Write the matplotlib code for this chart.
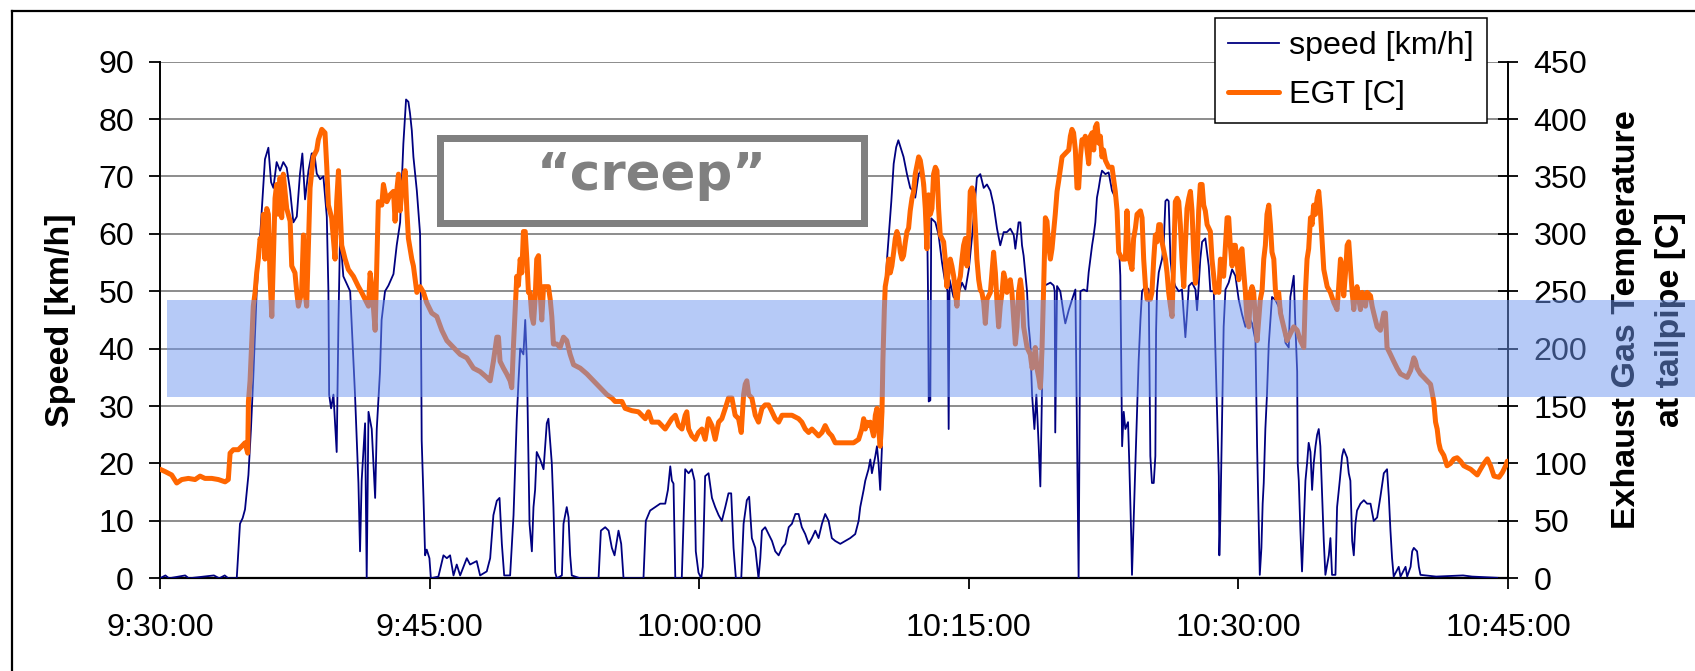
import matplotlib
matplotlib.use("Agg")
import matplotlib.pyplot as plt
from matplotlib.patches import Rectangle
from matplotlib.lines import Line2D
import matplotlib.transforms as mtransforms

plt.rcParams['font.family'] = ['Liberation Sans', 'DejaVu Sans']

# ---------------- data (minutes after 9:30:00) ----------------
xtick_minutes = [0, 15, 30, 45, 60, 75]
xtick_labels = ["9:30:00", "9:45:00", "10:00:00", "10:15:00", "10:30:00", "10:45:00"]
speed_ticks = list(range(0, 91, 10))
egt_ticks = list(range(0, 451, 50))
series_labels = ["speed [km/h]", "EGT [C]"]
band_speed = (31.5, 48.5)   # highlighted range on the speed axis
annotation_text = "\u201ccreep\u201d"

speed_trace = [
    (0.00, 0), (0.30, 0.5), (0.50, 0), (1.40, 0.5), (1.60, 0), (3.00, 0.5), (3.30, 0), (3.60, 0.5),
    (3.80, 0), (4.27, 0), (4.45, 9.5), (4.60, 10.5), (4.73, 12), (4.92, 18), (5.06, 26), (5.19, 35),
    (5.38, 50), (5.66, 64), (5.84, 73), (6.03, 75), (6.18, 69), (6.31, 68), (6.49, 72.5), (6.68, 71),
    (6.86, 72.5), (7.05, 71.5), (7.24, 67.5), (7.42, 62), (7.61, 63), (7.79, 70.5), (7.92, 74),
    (8.07, 66), (8.26, 71), (8.44, 74), (8.59, 74), (8.72, 70.5), (8.91, 69.5), (9.09, 70), (9.28, 63),
    (9.37, 50), (9.41, 32), (9.52, 29.6), (9.65, 32), (9.83, 22), (9.93, 45), (10.02, 60), (10.20, 52.6),
    (10.58, 50), (10.85, 32), (11.04, 16.6), (11.13, 4.7), (11.22, 17), (11.41, 27), (11.50, 0),
    (11.60, 29), (11.78, 26), (11.97, 14), (12.06, 26), (12.24, 36), (12.33, 45), (12.52, 50),
    (12.71, 51), (12.99, 53), (13.17, 58), (13.36, 62), (13.54, 75.7), (13.69, 83.4), (13.82, 83),
    (13.91, 81), (14.01, 78), (14.10, 73.4), (14.29, 67.5), (14.47, 60), (14.51, 50), (14.56, 24),
    (14.66, 14), (14.75, 4), (14.84, 5), (14.99, 3.5), (15.07, 0), (15.49, 0.3), (15.77, 4), (15.96, 3.5),
    (16.14, 4), (16.33, 0.5), (16.51, 2.4), (16.70, 0.5), (17.07, 3.5), (17.25, 2.4), (17.62, 3),
    (17.81, 0.5), (18.18, 1.2), (18.37, 3.5), (18.55, 11), (18.74, 13.5), (18.89, 14), (19.02, 6),
    (19.15, 0.5), (19.48, 0.5), (19.67, 11), (19.76, 19.5), (19.85, 27.8), (19.94, 34), (20.04, 40),
    (20.22, 39), (20.32, 45), (20.41, 38), (20.56, 9.5), (20.69, 4.7), (20.78, 12.4), (20.87, 15.4),
    (20.96, 22), (21.15, 20.7), (21.34, 19), (21.52, 27), (21.61, 27.8), (21.80, 20), (21.89, 12.4),
    (21.99, 1), (22.08, 0), (22.36, 0.5), (22.45, 9.5), (22.63, 12.4), (22.73, 10.6), (22.82, 4),
    (22.91, 0.5), (23.38, 0), (24.40, 0), (24.53, 8.3), (24.77, 8.9), (24.96, 8.3), (25.14, 5.3),
    (25.29, 4), (25.51, 8.3), (25.66, 6), (25.79, 0), (26.90, 0), (27.03, 10), (27.27, 11.8),
    (27.55, 12.4), (27.83, 13), (28.11, 13), (28.26, 15.4), (28.39, 19.5), (28.48, 17), (28.57, 16.5),
    (28.67, 0), (29.03, 0), (29.22, 19), (29.41, 18.3), (29.59, 19), (29.74, 17), (29.81, 4.7),
    (29.96, 1), (30.11, 0), (30.20, 2), (30.33, 17.8), (30.52, 18.3), (30.71, 14), (30.89, 12.4),
    (31.08, 11), (31.26, 10), (31.45, 12.4), (31.63, 14.8), (31.78, 14.8), (31.91, 5.3), (32.04, 0),
    (32.34, 0), (32.47, 9.5), (32.65, 13.6), (32.78, 14.2), (32.93, 7), (33.12, 5.3), (33.30, 0),
    (33.40, 3.5), (33.49, 8.3), (33.67, 8.9), (33.86, 7.7), (34.05, 6.5), (34.23, 4.7), (34.42, 4),
    (34.61, 5.3), (34.79, 6), (34.98, 8.9), (35.16, 9.5), (35.35, 11.2), (35.53, 11.2), (35.71, 8.9),
    (35.90, 7.7), (36.09, 6), (36.27, 7), (36.46, 8.3), (36.64, 7), (36.83, 9.5), (37.01, 11.2),
    (37.20, 10), (37.38, 7), (37.57, 6.5), (37.85, 6), (38.13, 6.5), (38.40, 7), (38.68, 7.7),
    (38.87, 10), (38.96, 12.4), (39.15, 15.4), (39.24, 17), (39.42, 19), (39.52, 20.7), (39.61, 18.3),
    (39.80, 21.3), (39.89, 23), (39.98, 20), (40.07, 15.4), (40.17, 23), (40.26, 37.9), (40.35, 50),
    (40.45, 55.6), (40.59, 61.5), (40.69, 65.7), (40.82, 72.2), (40.96, 75.1), (41.08, 76.3),
    (41.21, 75), (41.37, 73.4), (41.56, 70.4), (41.74, 68), (41.89, 67.5), (42.02, 66.3), (42.21, 70.4),
    (42.34, 71), (42.49, 66.9), (42.67, 65), (42.73, 50), (42.77, 30.8), (42.86, 31), (42.91, 62.7),
    (43.14, 62), (43.32, 59.8), (43.51, 55), (43.69, 51.5), (43.82, 50), (43.88, 26), (43.93, 52),
    (44.15, 49), (44.34, 48.5), (44.62, 51.5), (44.81, 50.3), (45.00, 53.8), (45.19, 59.8),
    (45.45, 69.8), (45.64, 70.4), (45.83, 68), (46.01, 68.6), (46.20, 67.5), (46.38, 65), (46.57, 60.9),
    (46.75, 58), (46.94, 60.3), (47.12, 60.3), (47.31, 60.9), (47.50, 59.8), (47.59, 57.4), (47.77, 62),
    (47.87, 62), (47.96, 58), (48.05, 56.2), (48.24, 50), (48.33, 44), (48.42, 41), (48.52, 32),
    (48.65, 26), (48.76, 32), (48.89, 23), (48.98, 16), (49.07, 32), (49.17, 50.9), (49.54, 51.5),
    (49.72, 51), (49.78, 50), (49.81, 25.4), (49.87, 40), (49.91, 50.9), (50.09, 50), (50.28, 46),
    (50.37, 44.4), (50.56, 46.7), (50.74, 48.5), (50.93, 50.3), (51.02, 24.9), (51.11, 0), (51.21, 50),
    (51.39, 50.3), (51.58, 50), (51.67, 53.3), (51.76, 55.6), (51.86, 58), (51.95, 59.8), (52.04, 62),
    (52.13, 66.3), (52.23, 68), (52.32, 69.8), (52.41, 71), (52.60, 70.4), (52.78, 70.7), (52.97, 67.5),
    (53.15, 66.3), (53.34, 59.2), (53.43, 52.7), (53.53, 23), (53.62, 29), (53.71, 26), (53.86, 27.2),
    (53.93, 20), (54.04, 7), (54.08, 0.6), (54.17, 10), (54.27, 20), (54.36, 29), (54.45, 37.9),
    (54.55, 45), (54.64, 50), (54.83, 50.9), (55.01, 50.3), (55.10, 21.3), (55.19, 16.6), (55.29, 16.6),
    (55.38, 21.3), (55.42, 43), (55.47, 50), (55.57, 53.3), (55.75, 55.6), (55.84, 58), (55.94, 65.7),
    (56.03, 66), (56.12, 65.7), (56.22, 55.6), (56.31, 52.7), (56.49, 50.9), (56.68, 50), (56.86, 50.3),
    (56.96, 46), (57.05, 42), (57.14, 46), (57.24, 50.9), (57.42, 51.5), (57.61, 50.3), (57.70, 46.7),
    (57.79, 50.9), (57.88, 55.6), (57.98, 58.6), (58.16, 59.2), (58.35, 54.4), (58.44, 50), (58.63, 50),
    (58.72, 39.6), (58.81, 29), (58.91, 17.8), (58.94, 4), (59.00, 11.2), (59.09, 27.2), (59.18, 43.8),
    (59.28, 50.3), (59.46, 51.5), (59.65, 53.8), (59.83, 52.7), (60.02, 48.5), (60.20, 46),
    (60.39, 43.8), (60.58, 45.6), (60.76, 44.4), (60.95, 41.4), (61.04, 23), (61.13, 10), (61.19, 0.6),
    (61.28, 5.3), (61.35, 13), (61.41, 16.6), (61.50, 26), (61.59, 32), (61.69, 40.8), (61.87, 49),
    (62.06, 48.5), (62.24, 47.3), (62.34, 48), (62.52, 43.8), (62.62, 41), (62.80, 40.2), (62.89, 49),
    (63.08, 52.7), (63.17, 44), (63.27, 36), (63.30, 20), (63.36, 17), (63.45, 8.3), (63.54, 1.2),
    (63.64, 9.5), (63.73, 17), (63.82, 20), (63.91, 23.6), (64.01, 22), (64.10, 15.4), (64.19, 20),
    (64.29, 23), (64.38, 25), (64.47, 26), (64.56, 23), (64.66, 14.2), (64.75, 6.5), (64.84, 0.6),
    (65.03, 4), (65.12, 7), (65.21, 0.6), (65.40, 0.6), (65.49, 12.4), (65.64, 17), (65.77, 21.3),
    (65.86, 22.5), (66.05, 21), (66.14, 18.3), (66.23, 17), (66.33, 6.5), (66.42, 4), (66.51, 9.5),
    (66.60, 11.8), (66.79, 13), (66.98, 13.6), (67.16, 13), (67.35, 13), (67.53, 10), (67.72, 10.6),
    (67.90, 14.2), (68.09, 18.3), (68.27, 19), (68.37, 14.2), (68.46, 8.3), (68.55, 3.5), (68.64, 0.3),
    (68.92, 2), (69.02, 0.3), (69.30, 2), (69.39, 0.3), (69.58, 2), (69.67, 4.7), (69.76, 5.3),
    (69.94, 4.7), (70.04, 2), (70.13, 0.6), (71.00, 0.3), (72.50, 0.5), (73.00, 0.3), (75.00, 0),
]

egt_trace = [
    (0.00, 95), (0.28, 93), (0.65, 90), (0.93, 83), (1.21, 86), (1.58, 87), (1.95, 86), (2.23, 89),
    (2.50, 87), (2.88, 87), (3.25, 86), (3.62, 84), (3.80, 86), (3.90, 109), (4.08, 112), (4.36, 112),
    (4.55, 115), (4.73, 118), (4.88, 109), (4.92, 154), (5.01, 172), (5.10, 204), (5.19, 237),
    (5.29, 249), (5.38, 266), (5.47, 278), (5.57, 296), (5.66, 290), (5.75, 317), (5.84, 278),
    (5.94, 322), (6.03, 317), (6.12, 263), (6.22, 228), (6.31, 278), (6.40, 331), (6.49, 343),
    (6.59, 317), (6.68, 349), (6.77, 314), (6.86, 352), (7.05, 322), (7.24, 311), (7.33, 272),
    (7.51, 266), (7.61, 249), (7.70, 237), (7.88, 249), (7.98, 299), (8.07, 249), (8.16, 237),
    (8.26, 290), (8.35, 340), (8.53, 367), (8.72, 373), (8.81, 382), (9.00, 391), (9.18, 388),
    (9.28, 358), (9.37, 325), (9.55, 314), (9.74, 278), (9.83, 328), (9.93, 355), (10.02, 322),
    (10.11, 290), (10.30, 278), (10.48, 269), (10.76, 263), (11.04, 254), (11.22, 249), (11.41, 243),
    (11.60, 237), (11.69, 266), (11.78, 255), (11.87, 237), (11.97, 216), (12.06, 272), (12.15, 328),
    (12.34, 325), (12.43, 343), (12.62, 328), (12.80, 334), (12.99, 337), (13.08, 311), (13.17, 337),
    (13.27, 352), (13.36, 320), (13.45, 337), (13.54, 343), (13.64, 355), (13.73, 322), (13.82, 296),
    (14.01, 278), (14.10, 272), (14.29, 249), (14.47, 254), (14.66, 249), (14.84, 240), (15.12, 231),
    (15.40, 228), (15.68, 216), (15.96, 207), (16.33, 201), (16.70, 195), (17.07, 192), (17.44, 183),
    (17.81, 180), (18.18, 175), (18.37, 172), (18.55, 189), (18.74, 210), (18.83, 210), (18.92, 189),
    (19.11, 183), (19.29, 178), (19.48, 172), (19.57, 166), (19.67, 204), (19.76, 234), (19.85, 263),
    (19.94, 255), (20.04, 278), (20.13, 266), (20.22, 302), (20.32, 302), (20.41, 278), (20.50, 249),
    (20.59, 249), (20.69, 228), (20.78, 222), (20.87, 243), (20.96, 278), (21.06, 281), (21.15, 249),
    (21.24, 225), (21.34, 254), (21.61, 254), (21.71, 243), (21.80, 228), (21.89, 204), (22.08, 204),
    (22.26, 201), (22.45, 210), (22.63, 207), (22.82, 195), (23.01, 186), (23.38, 183), (23.75, 178),
    (24.12, 172), (24.49, 166), (24.86, 160), (25.14, 157), (25.32, 154), (25.70, 154), (25.88, 148),
    (26.25, 146), (26.62, 145), (27.00, 139), (27.18, 145), (27.37, 136), (27.74, 136), (28.11, 130),
    (28.48, 139), (28.67, 142), (28.85, 133), (29.04, 130), (29.22, 142), (29.31, 145), (29.41, 130),
    (29.59, 124), (29.78, 121), (29.96, 127), (30.15, 130), (30.33, 121), (30.52, 139), (30.71, 133),
    (30.89, 121), (31.08, 136), (31.26, 139), (31.45, 148), (31.63, 157), (31.82, 157), (32.00, 142),
    (32.19, 139), (32.34, 127), (32.47, 160), (32.56, 169), (32.65, 172), (32.75, 160), (32.93, 157),
    (33.12, 142), (33.30, 136), (33.49, 148), (33.67, 151), (33.86, 151), (34.05, 145), (34.23, 139),
    (34.42, 136), (34.61, 142), (34.79, 142), (35.16, 142), (35.53, 139), (35.71, 136), (35.90, 130),
    (36.09, 127), (36.27, 130), (36.46, 127), (36.64, 124), (36.83, 127), (37.01, 133), (37.20, 127),
    (37.38, 124), (37.57, 118), (37.85, 118), (38.22, 118), (38.59, 118), (38.87, 121), (39.05, 130),
    (39.15, 139), (39.24, 130), (39.33, 136), (39.42, 133), (39.52, 136), (39.61, 130), (39.70, 124),
    (39.80, 142), (39.89, 148), (39.98, 130), (40.07, 115), (40.17, 145), (40.22, 189), (40.30, 234),
    (40.35, 254), (40.45, 263), (40.54, 278), (40.63, 266), (40.72, 272), (40.82, 284), (40.91, 296),
    (41.00, 302), (41.10, 296), (41.19, 284), (41.28, 278), (41.37, 281), (41.47, 293), (41.56, 302),
    (41.65, 305), (41.74, 320), (41.84, 331), (41.93, 337), (42.02, 352), (42.21, 367), (42.30, 364),
    (42.39, 355), (42.49, 343), (42.58, 322), (42.67, 287), (42.76, 334), (42.86, 317), (42.95, 322),
    (43.04, 352), (43.14, 358), (43.23, 355), (43.32, 322), (43.41, 299), (43.60, 293), (43.69, 278),
    (43.78, 254), (43.88, 272), (43.97, 278), (44.06, 272), (44.16, 263), (44.25, 249), (44.34, 237),
    (44.43, 257), (44.53, 263), (44.62, 278), (44.71, 290), (44.81, 296), (44.90, 272), (44.99, 296),
    (45.08, 337), (45.18, 340), (45.27, 334), (45.36, 308), (45.45, 278), (45.55, 260), (45.64, 251),
    (45.73, 249), (45.83, 240), (45.92, 222), (46.01, 243), (46.20, 249), (46.29, 266), (46.38, 284),
    (46.48, 266), (46.57, 240), (46.66, 219), (46.75, 237), (46.85, 249), (46.94, 266), (47.03, 260),
    (47.12, 249), (47.22, 254), (47.31, 260), (47.40, 249), (47.50, 225), (47.59, 204), (47.68, 219),
    (47.77, 249), (47.87, 260), (47.96, 249), (48.05, 219), (48.24, 201), (48.42, 195), (48.52, 183),
    (48.61, 189), (48.70, 201), (48.79, 183), (48.89, 175), (48.98, 166), (49.07, 198), (49.17, 257),
    (49.26, 314), (49.35, 311), (49.44, 290), (49.54, 278), (49.63, 287), (49.72, 302), (49.81, 317),
    (49.91, 337), (50.00, 346), (50.19, 367), (50.37, 370), (50.56, 373), (50.65, 385), (50.74, 391),
    (50.83, 388), (50.93, 373), (51.02, 340), (51.11, 340), (51.21, 367), (51.30, 382), (51.39, 379),
    (51.48, 385), (51.58, 373), (51.67, 361), (51.76, 385), (51.86, 388), (51.95, 373), (52.04, 393),
    (52.13, 396), (52.23, 379), (52.32, 385), (52.41, 367), (52.50, 373), (52.60, 364), (52.78, 358),
    (52.97, 358), (53.15, 337), (53.25, 320), (53.34, 284), (53.53, 278), (53.71, 278), (53.80, 320),
    (53.90, 281), (54.08, 269), (54.17, 296), (54.27, 305), (54.36, 317), (54.55, 320), (54.64, 314),
    (54.73, 278), (54.83, 254), (54.92, 243), (55.10, 243), (55.19, 249), (55.29, 278), (55.38, 299),
    (55.47, 293), (55.57, 308), (55.66, 308), (55.75, 293), (55.94, 278), (56.03, 266), (56.12, 249),
    (56.22, 237), (56.31, 228), (56.40, 278), (56.49, 328), (56.59, 331), (56.68, 328), (56.77, 308),
    (56.86, 278), (56.96, 254), (57.05, 290), (57.14, 322), (57.24, 331), (57.33, 337), (57.42, 320),
    (57.51, 284), (57.61, 257), (57.70, 278), (57.79, 320), (57.88, 343), (57.98, 343), (58.07, 325),
    (58.16, 320), (58.26, 308), (58.44, 302), (58.53, 278), (58.63, 263), (58.72, 249), (58.81, 254),
    (58.91, 249), (59.00, 278), (59.09, 266), (59.18, 263), (59.28, 290), (59.37, 314), (59.46, 314),
    (59.55, 290), (59.65, 272), (59.74, 290), (59.83, 290), (59.93, 275), (60.02, 260), (60.11, 284),
    (60.20, 287), (60.30, 266), (60.39, 249), (60.48, 225), (60.58, 219), (60.67, 249), (60.76, 254),
    (60.85, 249), (60.95, 225), (61.04, 207), (61.13, 225), (61.22, 243), (61.32, 251), (61.41, 278),
    (61.50, 290), (61.59, 317), (61.69, 325), (61.78, 308), (61.87, 284), (61.97, 278), (62.06, 251),
    (62.15, 243), (62.24, 249), (62.34, 231), (62.52, 219), (62.71, 207), (62.89, 213), (63.08, 219),
    (63.27, 216), (63.45, 207), (63.64, 201), (63.73, 249), (63.82, 278), (63.91, 287), (64.01, 314),
    (64.10, 308), (64.19, 325), (64.29, 317), (64.38, 331), (64.47, 337), (64.56, 320), (64.66, 293),
    (64.75, 269), (64.94, 254), (65.12, 249), (65.31, 240), (65.49, 234), (65.58, 254), (65.68, 278),
    (65.77, 272), (65.86, 246), (65.96, 266), (66.05, 290), (66.14, 293), (66.23, 272), (66.33, 249),
    (66.42, 234), (66.51, 249), (66.60, 254), (66.70, 243), (66.79, 234), (66.88, 249), (66.98, 243),
    (67.07, 237), (67.16, 249), (67.35, 246), (67.44, 237), (67.53, 231), (67.72, 219), (67.90, 216),
    (68.09, 231), (68.18, 231), (68.27, 201), (68.46, 195), (68.64, 189), (68.83, 183), (69.02, 178),
    (69.39, 175), (69.58, 181), (69.76, 192), (69.85, 189), (69.94, 183), (70.13, 178), (70.32, 175),
    (70.50, 172), (70.69, 169), (70.87, 154), (70.97, 136), (71.06, 130), (71.15, 118), (71.24, 112),
    (71.43, 107), (71.61, 98), (71.80, 100), (71.99, 104), (72.17, 105), (72.36, 102), (72.54, 98),
    (72.92, 95), (73.29, 90), (73.47, 95), (73.66, 100), (73.85, 104), (74.03, 98), (74.22, 89),
    (74.50, 88), (74.68, 92), (74.87, 98), (74.96, 102),
]

speed_min = [p[0] for p in speed_trace]
speed_kmh = [p[1] for p in speed_trace]
egt_min = [p[0] for p in egt_trace]
egt_c = [p[1] for p in egt_trace]

# ---------------- figure ----------------
W, H = 1695, 671
fig = plt.figure(figsize=(W / 100, H / 100), dpi=100)

def fx(px):
    return px / W

def fy(py):
    return 1 - py / H

ax_l, ax_r, ax_t, ax_b = 160, 1508, 61.6, 578.3
ax = fig.add_axes([fx(ax_l), fy(ax_b), (ax_r - ax_l) / W, (ax_b - ax_t) / H])
ax2 = ax.twinx()

NAVY = '#000080'
ORANGE = '#FF6600'
TICK_FS = 23.2
LAB_FS = 24.5

l1, = ax.plot(speed_min, speed_kmh, color=NAVY, lw=1.3, zorder=3)
l2, = ax2.plot(egt_min, egt_c, color=ORANGE, lw=3.6, solid_joinstyle='round',
               solid_capstyle='round', zorder=3)

ax.set_xlim(0, 75)
ax.set_ylim(0, 90)
ax2.set_ylim(0, 450)
ax.set_xticks(xtick_minutes)
ax.set_xticklabels(xtick_labels)
ax.set_yticks(speed_ticks)
ax2.set_yticks(egt_ticks)

ax.grid(axis='y', color='#8c8c8c', lw=1.4)
ax.grid(axis='x', visible=False)

for a in (ax, ax2):
    a.spines['top'].set_visible(False)
ax2.spines['left'].set_visible(False)
ax2.spines['bottom'].set_visible(False)
ax.spines['right'].set_visible(False)
ax.spines['left'].set_linewidth(1.4)
ax.spines['bottom'].set_linewidth(1.6)
ax2.spines['right'].set_linewidth(1.4)

ax.tick_params(axis='y', direction='out', length=7.7, width=1.3, pad=11, labelsize=TICK_FS)
ax.tick_params(axis='x', direction='out', length=7.7, width=1.3, pad=17, labelsize=TICK_FS)
ax2.tick_params(axis='y', direction='inout', length=15, width=1.3, pad=11, labelsize=TICK_FS)

# axis titles
fig.text(fx(60), fy((ax_t + ax_b) / 2), "Speed [km/h]", rotation=90, ha='center', va='center',
         fontsize=LAB_FS, fontweight='bold')
fig.text(fx(1627), fy((ax_t + ax_b) / 2), "Exhaust Gas Temperature", rotation=90, ha='center',
         va='center', fontsize=LAB_FS, fontweight='bold')
fig.text(fx(1671), fy((ax_t + ax_b) / 2), "at tailpipe [C]", rotation=90, ha='center',
         va='center', fontsize=LAB_FS, fontweight='bold')

# legend
leg = ax2.legend([l1, l2], series_labels, loc='upper right',
                 bbox_to_anchor=(fx(1486.5), fy(18)), bbox_transform=fig.transFigure,
                 borderaxespad=0, fontsize=TICK_FS, frameon=True, fancybox=False, shadow=False,
                 framealpha=1, edgecolor='black', handlelength=1.6, handletextpad=0.3,
                 borderpad=0.4, labelspacing=0.6)
leg.get_frame().set_linewidth(1.1)
leg.set_zorder(20)

# "creep" annotation box
box_lw_px = 7
fig.add_artist(Rectangle((fx(436 + box_lw_px / 2), fy(226 - box_lw_px / 2)),
                         (867 - 436 - box_lw_px) / W, (226 - 134 - box_lw_px) / H,
                         transform=fig.transFigure, facecolor='white', edgecolor='#808080',
                         lw=box_lw_px * 0.72, zorder=8))
fig.text(fx(651.5), fy(176), annotation_text, ha='center', va='center', color='#808080',
         fontsize=37, fontweight='bold', family=['DejaVu Sans'], zorder=9)

# translucent highlight band (spans to the right edge of the figure)
band_tr = mtransforms.blended_transform_factory(fig.transFigure, ax.transData)
fig.add_artist(Rectangle((fx(167), band_speed[0]), 1 - fx(167), band_speed[1] - band_speed[0],
                         transform=band_tr, facecolor='#6E96F0', alpha=0.5, lw=0,
                         clip_on=False, zorder=15))

# outer frame (top and left edges visible)
fig.add_artist(Line2D([fx(11.5), 1.0], [fy(11), fy(11)], transform=fig.transFigure,
                      color='black', lw=1.6, zorder=30))
fig.add_artist(Line2D([fx(11.5), fx(11.5)], [fy(11), 0.0], transform=fig.transFigure,
                      color='black', lw=1.6, zorder=30))

fig.savefig("out.png", dpi=100)
